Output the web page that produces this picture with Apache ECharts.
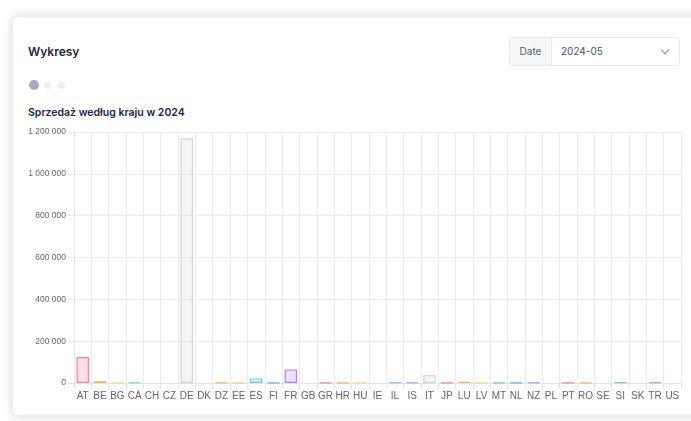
<!DOCTYPE html>
<html>
<head>
<meta charset="utf-8">
<script src="https://cdn.jsdelivr.net/npm/echarts@6/dist/echarts.min.js"></script>
<style>
html,body{margin:0;padding:0;width:691px;height:421px;overflow:hidden;background:#fff;font-family:Inter,"Noto Sans",sans-serif;}
.card{position:absolute;left:12px;top:16px;width:700px;height:398px;background:#fff;border:1px solid #ececec;border-radius:6px;box-shadow:0 0 12px rgba(0,0,0,0.16);}
.h1{position:absolute;left:28px;top:44px;font-size:12px;font-weight:600;color:#1f2544;}
.h2{position:absolute;left:28px;top:106px;font-size:10.5px;font-weight:600;color:#1f2544;}
.sel{position:absolute;left:509px;top:37px;width:171px;height:29px;border:1px solid #e6e8ee;border-radius:4px;background:#fff;box-sizing:border-box;font-size:10px;color:#4a5068;}
.sel .addon{position:absolute;left:0;top:0;width:41px;height:27px;background:#f6f7f9;border-right:1px solid #e6e8ee;border-radius:4px 0 0 4px;line-height:27px;text-align:center;color:#555b70;}
.sel .val{position:absolute;left:51px;top:0;line-height:27px;}
.sel .chev{position:absolute;right:11px;top:9px;width:5px;height:5px;border-right:1px solid #8a8f9e;border-bottom:1px solid #8a8f9e;transform:rotate(45deg);}
.dot{position:absolute;border-radius:50%;}
#chart{position:absolute;left:0;top:0;width:691px;height:421px;}
</style>
</head>
<body>
<div class="card"></div>
<div class="h1">Wykresy</div>
<div class="sel"><div class="addon">Date</div><div class="val">2024-05</div><div class="chev"></div></div>
<div class="dot" style="left:29px;top:80px;width:10px;height:10px;background:#a9a8c0;"></div>
<div class="dot" style="left:44px;top:82px;width:7px;height:7px;background:#eeeef2;"></div>
<div class="dot" style="left:58px;top:82px;width:7px;height:7px;background:#eeeef2;"></div>
<div class="h2">Sprzedaż według kraju w 2024</div>
<div id="chart"></div>
<script>
const countries = ["AT","BE","BG","CA","CH","CZ","DE","DK","DZ","EE","ES","FI","FR","GB","GR","HR","HU","IE","IL","IS","IT","JP","LU","LV","MT","NL","NZ","PL","PT","RO","SE","SI","SK","TR","US"];
const sales = [124000,9000,2000,2500,0,0,1170000,0,2000,2000,22000,2000,65000,0,2000,2000,2000,0,2500,2500,38000,2000,6000,2000,2000,2000,2500,0,2000,2000,0,3500,0,2500,0];
const yTicks = [0,200000,400000,600000,800000,1000000,1200000];

const borderColors = ["rgba(255,99,132,0.8)","rgba(255,159,64,0.8)","rgba(255,205,86,0.8)","rgba(75,192,192,0.8)","rgba(54,162,235,0.8)","rgba(153,102,255,0.8)","rgba(201,203,207,0.8)"];
const fillColors = ["rgba(255,99,132,0.2)","rgba(255,159,64,0.2)","rgba(255,205,86,0.2)","rgba(75,192,192,0.2)","rgba(54,162,235,0.2)","rgba(153,102,255,0.2)","rgba(201,203,207,0.2)"];

const chart = echarts.init(document.getElementById('chart'), null, {renderer:'canvas'});
const fmt = v => String(v).replace(/\B(?=(\d{3})+(?!\d))/g, ' ');
chart.setOption({
  animation:false,
  grid:{left:74,top:132,right:10,bottom:38,containLabel:false},
  xAxis:{
    type:'category',
    data:countries,
    boundaryGap:true,
    axisLine:{show:true,lineStyle:{color:'#e4e4e4'}},
    axisTick:{show:true,length:6,alignWithLabel:false,lineStyle:{color:'#e4e4e4'}},
    splitLine:{show:true,lineStyle:{color:'#ececec'}},
    axisLabel:{interval:0,color:'#666',fontSize:10,fontFamily:'"Liberation Sans",Arial,sans-serif',margin:8}
  },
  yAxis:{
    type:'value',
    min:yTicks[0],max:yTicks[yTicks.length-1],interval:200000,
    axisLine:{show:true,lineStyle:{color:'#e4e4e4'}},
    axisTick:{show:true,length:6,lineStyle:{color:'#e4e4e4'}},
    splitLine:{show:true,lineStyle:{color:'#ececec'}},
    axisLabel:{color:'#666',fontSize:8.5,fontFamily:'"Liberation Sans",Arial,sans-serif',margin:8,formatter:fmt}
  },
  series:[{
    type:'bar',
    barWidth:'72%',
    data:sales.map((v,i)=>({value:v,itemStyle:{color:fillColors[i%7],borderColor:borderColors[i%7],borderWidth:v>0?1.2:0}}))
  }]
});
</script>
</body>
</html>
